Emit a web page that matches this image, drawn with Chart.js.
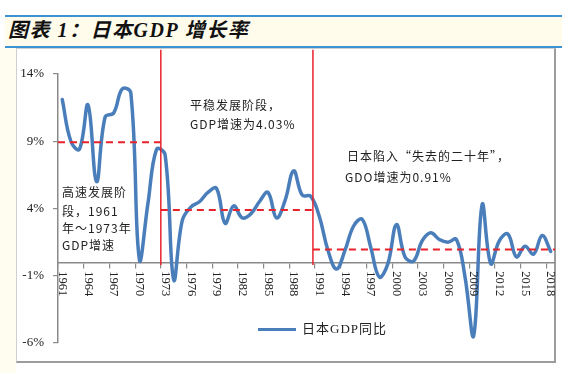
<!DOCTYPE html>
<html lang="zh">
<head>
<meta charset="UTF-8">
<title>日本GDP增长率</title>
<script src="https://cdn.jsdelivr.net/npm/chart.js"></script>
<style>
  body { margin: 0; background: #fff; }
  #page { position: relative; width: 562px; height: 373px; overflow: hidden; }
  #band { position: absolute; left: 5px; right: 0; top: 15px; height: 29px; background: #fffcec;
          border-top: 2px solid #3b93d4; border-bottom: 2px solid #3b93d4; }
  #title { position: absolute; left: 8px; top: 17px; font: italic bold 20px "Liberation Serif", "Noto Sans CJK SC", serif;
           letter-spacing: 1.5px; color: #111; white-space: nowrap; line-height: 26px; }
  #strip { position: absolute; left: 0; top: 48px; width: 16px; bottom: 0; background: #fffcf0; }
  #frame { position: absolute; left: 16px; top: 48px; width: 537px; height: 312px; background: #fff;
           border-left: 1px solid #cfcfcf; border-top: 1px solid #cfcfcf;
           border-right: 2px solid #9c9c9c; border-bottom: 2px solid #9c9c9c; }
  canvas { position: absolute; left: 0; top: 0; }
  .note { position: absolute; font: 12px "Noto Sans CJK SC", sans-serif; color: #222; letter-spacing: 1px;
          white-space: nowrap; line-height: 14px; }
  #legend { position: absolute; left: 258px; top: 321px; font: 13px "Liberation Serif", "Noto Sans CJK SC", serif;
            color: #222; letter-spacing: 1px; white-space: nowrap; line-height: 16px; }
  #legend i { display: inline-block; width: 38px; height: 3px; background: #4a7ebb; vertical-align: middle;
              margin-right: 6px; position: relative; top: -1px; }
</style>
</head>
<body>
<div id="page">
  <div id="band"></div>
  <div id="title">图表 1：日本GDP 增长率</div>
  <div id="strip"></div>
  <div id="frame"></div>
  <canvas id="chart" width="562" height="373"></canvas>
  <div class="note" style="left:190px; top:98px;">平稳发展阶段，</div>
  <div class="note" style="left:190px; top:117px;">GDP增速为4.03%</div>
  <div class="note" style="left:347px; top:149px;">日本陷入“失去的二十年”，</div>
  <div class="note" style="left:345px; top:170px;">GDO增速为0.91%</div>
  <div class="note" style="left:62px; top:185px;">高速发展阶</div>
  <div class="note" style="left:62px; top:204px;">段，1961</div>
  <div class="note" style="left:62px; top:221px;">年～1973年</div>
  <div class="note" style="left:62px; top:238px;">GDP增速</div>
  <div id="legend"><i></i>日本GDP同比</div>
</div>
<script>
const years = [];
for (let y = 1961; y <= 2018; y++) years.push(y);

const gdpGrowth = [
  12.1, 9.0, 8.4, 11.7, 6.0, 10.8, 11.1, 12.9, 12.6, 0.2,
  4.4, 8.4, 8.0, -1.3, 3.1, 4.1, 4.5, 5.2, 5.5, 2.9,
  4.2, 3.3, 3.6, 4.5, 5.2, 3.3, 4.6, 6.8, 5.0, 4.9,
  3.4, 0.9, -0.5, 0.9, 2.7, 3.2, 1.1, -1.1, -0.1, 2.8,
  0.4, 0.1, 1.6, 2.2, 1.7, 1.5, 1.7, -1.1, -5.5, 4.3,
  -0.1, 1.6, 2.1, 0.4, 1.2, 0.6, 2.0, 0.8
];

const labelYears = [1961, 1964, 1967, 1970, 1973, 1976, 1979, 1982, 1985, 1988,
  1991, 1994, 1997, 2000, 2003, 2006, 2009, 2012, 2015, 2018];
const yTicks = [-6, -1, 4, 9, 14];

// stage borders and stage averages
const stageBreaks = [1972.5, 1990.25];
const stageStart = [1960.5, 1972.5, 1990.25];
const stageEnd = [1972.5, 1990.25, 2018.5];
const stageAvg = [8.93, 3.88, 0.95];

const red = '#e8232b';

const datasets = [];
stageBreaks.forEach(b => {
  datasets.push({
    data: [{x: b, y: -0.2}, {x: b, y: 15.8}],
    borderColor: red, borderWidth: 1.5, pointRadius: 0, clip: false, order: 0
  });
});
stageAvg.forEach((v, i) => {
  datasets.push({
    data: [{x: stageStart[i], y: v}, {x: stageEnd[i], y: v}],
    borderColor: red, borderWidth: 2, borderDash: [7, 5], pointRadius: 0, order: 0
  });
});
datasets.push({
  label: '日本GDP同比',
  data: years.map((y, i) => ({x: y, y: gdpGrowth[i]})),
  borderColor: '#4a7ebb', borderWidth: 3.5, pointRadius: 0, tension: 0.4,
  borderCapStyle: 'round', borderJoinStyle: 'round', order: 1
});

const yearLabels = {
  id: 'yearLabels',
  afterDraw(chart) {
    const ctx = chart.ctx;
    const xs = chart.scales.x, ys = chart.scales.y;
    const y0 = ys.getPixelForValue(0) + 9;
    ctx.save();
    ctx.font = '12.5px "Liberation Serif", serif';
    ctx.fillStyle = '#222';
    ctx.textAlign = 'left';
    ctx.textBaseline = 'middle';
    labelYears.forEach(yr => {
      ctx.save();
      ctx.translate(xs.getPixelForValue(yr), y0);
      ctx.rotate(Math.PI / 2);
      ctx.fillText(String(yr), 0, 0);
      ctx.restore();
    });
    ctx.restore();
  }
};

new Chart(document.getElementById('chart'), {
  type: 'line',
  data: { datasets },
  plugins: [yearLabels],
  options: {
    responsive: false,
    animation: false,
    layout: { padding: { left: 0, right: 7, top: 74, bottom: 30 } },
    plugins: { legend: { display: false }, tooltip: { enabled: false } },
    scales: {
      x: {
        type: 'linear', min: 1960.5, max: 2018.5,
        position: { y: 0 },
        afterBuildTicks: s => { s.ticks = labelYears.map(v => ({ value: v - 0.5 })); },
        ticks: { display: false },
        grid: { drawOnChartArea: false, drawTicks: true, tickLength: 5, color: '#8a8a8a', lineWidth: 1.2 },
        border: { color: '#8a8a8a', width: 1.5 }
      },
      y: {
        min: -6, max: 14,
        afterBuildTicks: s => { s.ticks = yTicks.map(v => ({ value: v })); },
        afterFit: s => { s.width = 58; },
        ticks: {
          callback: v => v + '%',
          font: { family: '"Liberation Serif", serif', size: 13 },
          color: '#222', padding: 9
        },
        grid: { drawOnChartArea: false, drawTicks: true, tickLength: 5, color: '#8a8a8a', lineWidth: 1.2 },
        border: { color: '#8a8a8a', width: 1.5 }
      }
    }
  }
});
</script>
</body>
</html>
